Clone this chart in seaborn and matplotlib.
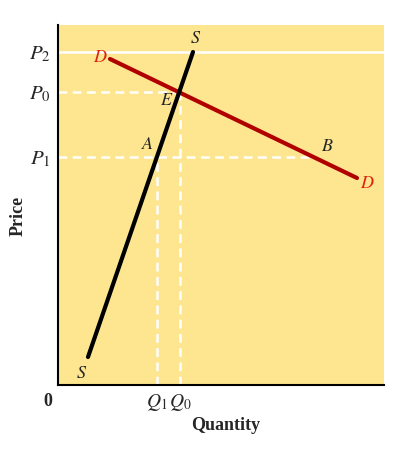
import matplotlib
matplotlib.use('Agg')
import matplotlib.pyplot as plt
import seaborn as sns
import pandas as pd

# Dati (unità = lettura dal grafico)
supply_q = [30, 135]
supply_p = [28, 333]
demand_q = [52, 299]
demand_p = [326, 207]

price_levels = [333, 293, 228]
price_labels = ['$P_2$', '$P_0$', '$P_1$']
qty_levels = [99, 122]
qty_labels = ['$Q_1$', '$Q_0$']

eq_q, eq_p = 122, 293
a_q, a_p = 99, 228
b_q, b_p = 255, 228

supply = pd.DataFrame({'q': supply_q, 'p': supply_p})
demand = pd.DataFrame({'q': demand_q, 'p': demand_p})

sns.set_style('white')
plt.rcParams['font.family'] = ['Liberation Serif', 'DejaVu Serif']
plt.rcParams['mathtext.fontset'] = 'stix'

fig = plt.figure(figsize=(3.96, 4.62), dpi=100)
ax = fig.add_axes([58 / 396, (462 - 385) / 462, 326 / 396, 360 / 462])
ax.set_facecolor('#FDE68F')
ax.set_xlim(0, 326)
ax.set_ylim(0, 360)

# Linee guida
ax.axhline(price_levels[0], color='white', lw=1.8, zorder=1)
dash = dict(color='white', lw=1.8, ls=(0, (3.5, 2.2)), zorder=1)
ax.plot([0, eq_q], [eq_p, eq_p], **dash)
ax.plot([0, b_q], [a_p, a_p], **dash)
ax.plot([eq_q, eq_q], [0, eq_p], **dash)
ax.plot([a_q, a_q], [0, a_p], **dash)

# Curve
sns.lineplot(data=demand, x='q', y='p', color='#B00000', lw=3, ax=ax, zorder=3)
sns.lineplot(data=supply, x='q', y='p', color='black', lw=3, ax=ax, zorder=4)

# Etichette delle curve
it = dict(fontsize=13, style='italic', family=['STIXGeneral', 'Liberation Serif'])
ax.text(supply_q[1] + 2, supply_p[1] + 5, 'S', ha='center', va='bottom', **it)
ax.text(supply_q[0] - 7, supply_p[0] - 8, 'S', ha='center', va='top', **it)
ax.text(demand_q[0] - 10, demand_p[0] + 1, 'D', ha='center', va='center', color='#E02010', **it)
ax.text(demand_q[1] + 10, demand_p[1] - 6, 'D', ha='center', va='center', color='#E02010', **it)
ax.text(eq_q - 14, eq_p - 9, 'E', ha='center', va='center', **it)
ax.text(a_q - 10, a_p + 12, 'A', ha='center', va='center', **it)
ax.text(b_q + 14, b_p + 10, 'B', ha='center', va='center', **it)

ax.set_yticks(price_levels)
ax.set_yticklabels(price_labels, fontsize=15)
ax.set_xticks(qty_levels)
ax.set_xticklabels(qty_labels, fontsize=14)
ax.tick_params(length=0, pad=5)
ax.text(-10, -8, '0', ha='center', va='top', fontsize=13, fontweight='bold')

ax.set_xlabel('Quantity', fontsize=13, fontweight='bold')
ax.set_ylabel('Price', fontsize=13, fontweight='bold')
ax.xaxis.set_label_coords(0.515, -0.09)
ax.yaxis.set_label_coords(-0.095, 0.47)

for side in ['top', 'right']:
    ax.spines[side].set_visible(False)
for side in ['left', 'bottom']:
    ax.spines[side].set_color('black')
    ax.spines[side].set_linewidth(1.5)

plt.savefig('out.png', dpi=100)
